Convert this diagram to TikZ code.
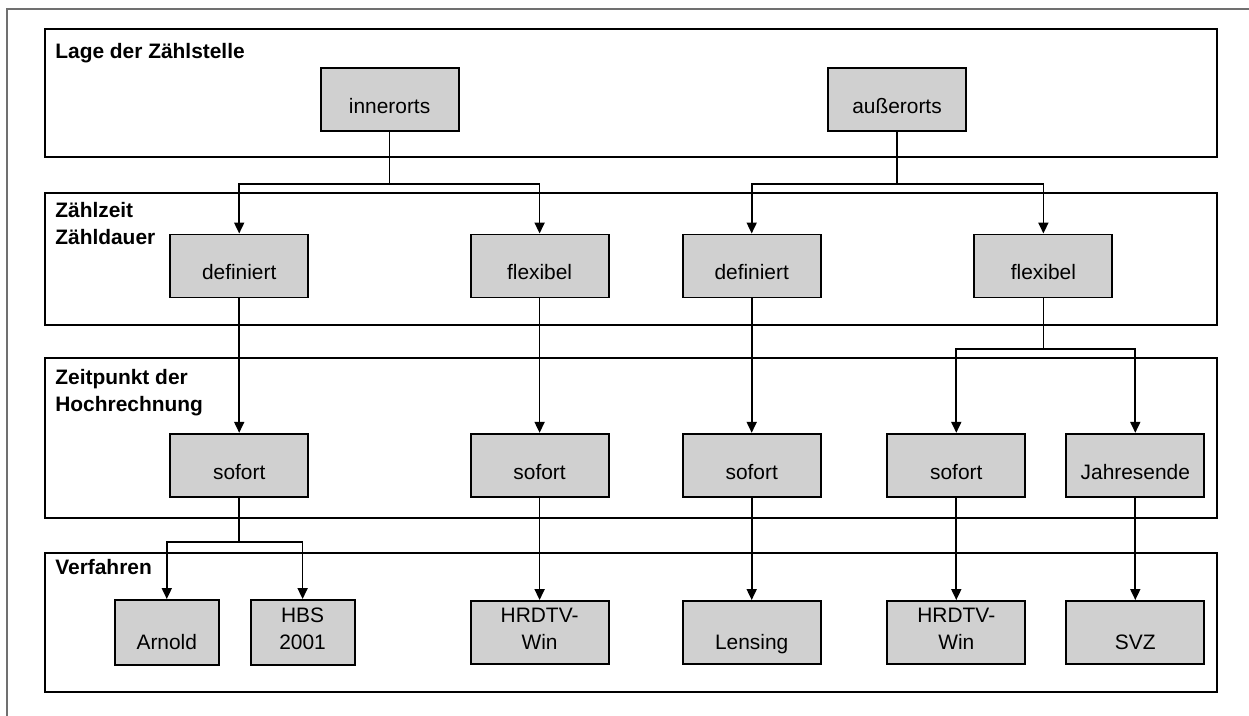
\documentclass[tikz,border=0pt]{standalone}
\usepackage{fontspec}
\setmainfont{Liberation Sans}
\usepackage{xcolor}
\usepackage{tikz}
\usetikzlibrary{arrows.meta,positioning}
\definecolor{boxfill}{HTML}{D0D0D0}
\definecolor{outerline}{HTML}{707070}
\tikzset{
  BandFrame/.style={draw=black, line width=1.2pt},
  BandLabel/.style={
    anchor=base west, inner sep=0pt, align=left,
    font=\fontsize{11.9}{15.4}\selectfont\bfseries
  },
  GrayBox/.style={
    draw=black, line width=1.1pt, fill=boxfill,
    minimum width=2.76cm, minimum height=1.26cm, inner sep=0pt,
    text height=0.56cm, text depth=0pt, align=center,
    font=\fontsize{11.9}{15.4}\selectfont
  },
  SmallBox/.style={GrayBox, minimum width=2.08cm, minimum height=1.3cm},
  LowText/.style={text height=0.7cm},
  Conn/.style={draw=black, line width=1pt, -{Triangle[length=0.22cm,width=0.2cm]}}
}

\begin{document}
\begin{tikzpicture}[x=0.02cm, y=-0.02cm, line cap=butt, line join=miter]
  \useasboundingbox (0,0) rectangle (1249,716);

  % open outer frame
  \draw[outerline, line width=1.1pt] (7,716) -- (7,9) -- (1249,9);

  % the four bands
  \draw[BandFrame] (44.8,29.3) rectangle (1216.8,157.3);
  \draw[BandFrame] (44.8,192.7) rectangle (1216.8,325);
  \draw[BandFrame] (44.8,358.3) rectangle (1216.8,518.3);
  \draw[BandFrame] (44.8,553.3) rectangle (1216.8,691.7);

  \node[BandLabel] (labLage) at (55,58.3) {Lage der Zählstelle};
  \node[BandLabel] (labZeit) at (55,245) {Zählzeit\\Zähldauer};
  \node[BandLabel] (labHoch) at (55,412) {Zeitpunkt der\\Hochrechnung};
  \node[BandLabel] (labVerf) at (55,575) {Verfahren};

  % Lage der Zählstelle
  \node[GrayBox] (inL) at (389.6,99.3) {innerorts};
  \node[GrayBox] (auL) at (897,99.3) {außerorts};

  % Zählzeit / Zähldauer
  \node[GrayBox] (defA) at (239.2,266) {definiert};
  \node[GrayBox] (flxA) at (539.6,266) {flexibel};
  \node[GrayBox] (defB) at (751.7,266) {definiert};
  \node[GrayBox] (flxB) at (1043.4,266) {flexibel};

  % Zeitpunkt der Hochrechnung
  \node[GrayBox] (sofA) at (239.2,465.3) {sofort};
  \node[GrayBox] (sofB) at (539.6,465.3) {sofort};
  \node[GrayBox] (sofC) at (751.7,465.3) {sofort};
  \node[GrayBox] (sofD) at (956.3,465.3) {sofort};
  \node[GrayBox] (jahr) at (1135.3,465.3) {Jahresende};

  % Verfahren
  \node[SmallBox, LowText] (arn) at (166.8,632.5) {Arnold};
  \node[SmallBox, LowText] (hbs) at (302.6,632.5) {HBS\\2001};
  \node[GrayBox, LowText] (hrdA) at (539.6,632.5) {HRDTV-\\Win};
  \node[GrayBox, LowText] (lens) at (751.7,632.5) {Lensing};
  \node[GrayBox, LowText] (hrdB) at (956.3,632.5) {HRDTV-\\Win};
  \node[GrayBox, LowText] (svz) at (1135.3,632.5) {SVZ};

  % connectors
  \draw[Conn] (inL.south) -- ++(0,52.3) -| (defA.north);
  \draw[Conn] (inL.south) -- ++(0,52.3) -| (flxA.north);
  \draw[Conn] (auL.south) -- ++(0,52.3) -| (defB.north);
  \draw[Conn] (auL.south) -- ++(0,52.3) -| (flxB.north);

  \draw[Conn] (defA) -- (sofA);
  \draw[Conn] (flxA) -- (sofB);
  \draw[Conn] (defB) -- (sofC);
  \draw[Conn] (flxB.south) -- ++(0,50.6) -| (sofD.north);
  \draw[Conn] (flxB.south) -- ++(0,50.6) -| (jahr.north);

  \draw[Conn] (sofA.south) -- ++(0,44.6) -| (arn.north);
  \draw[Conn] (sofA.south) -- ++(0,44.6) -| (hbs.north);
  \draw[Conn] (sofB) -- (hrdA);
  \draw[Conn] (sofC) -- (lens);
  \draw[Conn] (sofD) -- (hrdB);
  \draw[Conn] (jahr) -- (svz);
\end{tikzpicture}
\end{document}
